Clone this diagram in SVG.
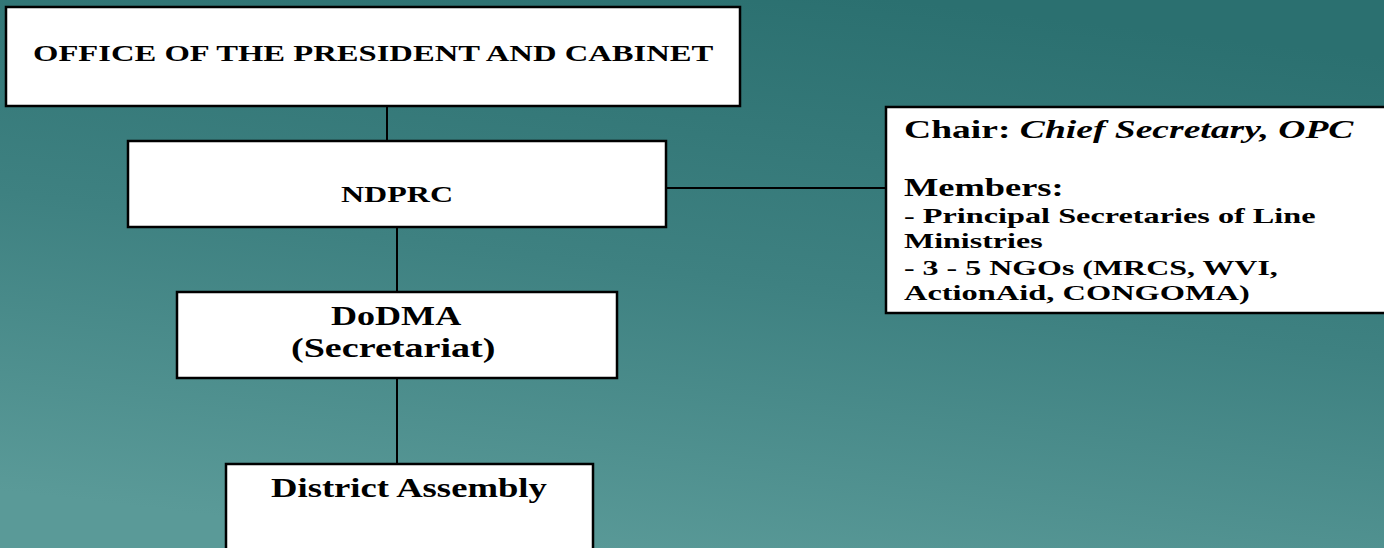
<svg xmlns="http://www.w3.org/2000/svg" width="1384" height="548" viewBox="0 0 1384 548">
  <defs>
    <linearGradient id="bg" x1="0.65" y1="0" x2="0.35" y2="1">
      <stop offset="0" stop-color="#2b7070"/>
      <stop offset="0.5" stop-color="#3e8181"/>
      <stop offset="1" stop-color="#5a9a98"/>
    </linearGradient>
  </defs>
  <style>
    .box { fill: #ffffff; stroke: #000000; stroke-width: 2.5; }
    .conn { stroke: #000000; stroke-width: 2; fill: none; }
    .t { font-family: "Liberation Serif", "Times New Roman", serif; font-weight: bold; fill: #000000; }
    .big { font-size: 25px; }
    .sm { font-size: 21px; }
  </style>
  <rect x="0" y="0" width="1384" height="548" fill="url(#bg)"/>

  <g id="connectors">
    <line class="conn" x1="387" y1="107" x2="387" y2="141"/>
    <line class="conn" x1="397" y1="227" x2="397" y2="292"/>
    <line class="conn" x1="397" y1="378" x2="397" y2="464"/>
    <line class="conn" x1="666" y1="188" x2="886" y2="188"/>
  </g>

  <g id="node-opc">
    <rect class="box" x="6" y="7" width="734" height="99"/>
    <text class="t" transform="translate(33 61) scale(1.4 1)" font-size="24" textLength="486" lengthAdjust="spacingAndGlyphs">OFFICE OF THE PRESIDENT AND CABINET</text>
  </g>

  <g id="node-ndprc">
    <rect class="box" x="128" y="141" width="538" height="86"/>
    <text class="t" transform="translate(341 202) scale(1.4 1)" font-size="23" textLength="80" lengthAdjust="spacingAndGlyphs">NDPRC</text>
  </g>

  <g id="node-dodma">
    <rect class="box" x="177" y="292" width="440" height="86"/>
    <text class="t" transform="translate(331 325) scale(1.4 1)" font-size="27" textLength="93" lengthAdjust="spacingAndGlyphs">DoDMA</text>
    <text class="t" transform="translate(291 357) scale(1.4 1)" font-size="27" textLength="146" lengthAdjust="spacingAndGlyphs">(Secretariat)</text>
  </g>

  <g id="node-district">
    <rect class="box" x="226" y="464" width="367" height="100"/>
    <text class="t" transform="translate(271 497) scale(1.4 1)" font-size="27" textLength="197" lengthAdjust="spacingAndGlyphs">District Assembly</text>
  </g>

  <g id="node-members">
    <rect class="box" x="886" y="107" width="510" height="206"/>
    <text class="t big" transform="translate(904 138) scale(1.4 1)" textLength="321" lengthAdjust="spacingAndGlyphs">Chair: <tspan font-style="italic">Chief Secretary, OPC</tspan></text>
    <text class="t big" transform="translate(904 196) scale(1.4 1)" textLength="114" lengthAdjust="spacingAndGlyphs">Members:</text>
    <text class="t sm" transform="translate(904 223) scale(1.4 1)" textLength="294" lengthAdjust="spacingAndGlyphs">- Principal Secretaries of Line</text>
    <text class="t sm" transform="translate(904 248) scale(1.4 1)" textLength="99" lengthAdjust="spacingAndGlyphs">Ministries</text>
    <text class="t sm" transform="translate(904 275) scale(1.4 1)" textLength="267" lengthAdjust="spacingAndGlyphs">- 3 - 5 NGOs (MRCS, WVI,</text>
    <text class="t sm" transform="translate(904 300) scale(1.4 1)" textLength="247" lengthAdjust="spacingAndGlyphs">ActionAid, CONGOMA)</text>
  </g>
</svg>
